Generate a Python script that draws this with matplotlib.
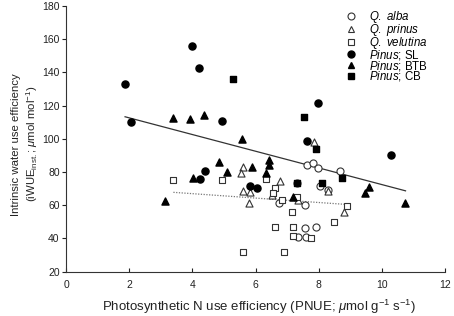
import matplotlib
matplotlib.use("Agg")
import matplotlib.pyplot as plt
from matplotlib.lines import Line2D

plt.rcParams['font.family'] = ['Liberation Sans', 'DejaVu Sans']
plt.rcParams['mathtext.fontset'] = 'custom'
plt.rcParams['mathtext.rm'] = 'Liberation Sans'
plt.rcParams['mathtext.it'] = 'Liberation Sans:italic'
plt.rcParams['mathtext.bf'] = 'Liberation Sans:bold'

# Q. alba (open circles)
qa_x = [7.64, 7.83, 7.99, 8.69, 8.04, 7.32, 6.75, 7.56, 7.57, 7.91, 7.33, 7.59, 8.30]
qa_y = [84.2, 85.6, 82.5, 80.6, 71.6, 73.5, 61.5, 60.0, 46.4, 46.7, 40.7, 41.0, 69.0]
# Q. prinus (open triangles)
qp_x = [7.86, 5.59, 5.53, 5.62, 5.83, 5.78, 6.79, 6.51, 7.33, 8.28, 8.81]
qp_y = [98.3, 83.2, 79.2, 68.6, 67.8, 61.5, 74.6, 66.1, 63.1, 68.6, 55.7]
# Q. velutina (open squares)
qv_x = [3.40, 4.95, 5.61, 6.33, 6.61, 6.56, 6.83, 7.30, 7.16, 8.91, 8.49, 6.61, 7.19, 7.19, 7.77, 6.90]
qv_y = [75.0, 75.0, 31.8, 75.6, 70.6, 67.3, 63.1, 65.1, 56.1, 59.7, 49.7, 47.0, 46.7, 41.4, 40.0, 32.0]
# Pinus; SL (filled circles)
sl_x = [1.87, 2.06, 3.98, 4.20, 4.94, 7.98, 7.62, 10.30, 4.39, 4.25, 5.83, 6.05]
sl_y = [133.0, 110.3, 156.1, 142.8, 110.5, 121.8, 98.7, 90.2, 80.6, 75.8, 71.7, 70.2]
# Pinus; BTB (filled triangles)
btb_x = [3.14, 4.03, 4.85, 5.10, 5.88, 5.57, 6.33, 6.42, 6.42, 3.40, 3.93, 4.38, 9.60, 9.46, 10.74, 7.20]
btb_y = [62.5, 76.6, 86.2, 79.8, 82.8, 99.7, 79.6, 87.0, 84.5, 112.7, 111.9, 114.3, 71.2, 67.2, 61.5, 65.1]
# Pinus; CB (filled squares)
cb_x = [5.30, 7.53, 7.93, 8.74, 7.32, 8.12]
cb_y = [136.0, 113.0, 93.8, 76.6, 73.2, 73.6]

# regression lines (end points)
pine_fit_x = [1.87, 10.75]
pine_fit_y = [113.3, 68.7]
oak_fit_x = [3.40, 8.88]
oak_fit_y = [67.8, 60.5]

fig = plt.figure(figsize=(4.54, 3.16), dpi=100)
ax = fig.add_axes([66/454, 1-271.7/316, (445-66)/454, (271.7-6)/316])

ms = 26
lw = 0.8
ax.plot(pine_fit_x, pine_fit_y, color='#333333', lw=0.9, zorder=1)
ax.plot(oak_fit_x, oak_fit_y, color='#777777', lw=0.9, ls=(0, (1, 1.2)), zorder=1)

ax.scatter(qa_x, qa_y, s=ms, marker='o', facecolors='white', edgecolors='#333333', linewidths=lw, zorder=3)
ax.scatter(qp_x, qp_y, s=ms, marker='^', facecolors='white', edgecolors='#333333', linewidths=lw, zorder=3)
ax.scatter(qv_x, qv_y, s=ms*0.9, marker='s', facecolors='white', edgecolors='#333333', linewidths=lw, zorder=3)
ax.scatter(sl_x, sl_y, s=ms, marker='o', color='black', zorder=4)
ax.scatter(btb_x, btb_y, s=ms, marker='^', color='black', zorder=4)
ax.scatter(cb_x, cb_y, s=ms*0.9, marker='s', color='black', zorder=4)

ax.set_xlim(0, 12)
ax.set_ylim(20, 180)
ax.set_xticks(range(0, 13, 2))
ax.set_yticks(range(20, 181, 20))
ax.spines['top'].set_visible(False)
ax.spines['right'].set_visible(False)
for s in ('left', 'bottom'):
    ax.spines[s].set_linewidth(0.8)
    ax.spines[s].set_color('#333333')
ax.tick_params(axis='y', direction='out', length=3, width=0.8, pad=1.5, labelsize=7.5, colors='#222222')
ax.tick_params(axis='x', direction='in', length=3, width=0.8, pad=6, labelsize=7.5, colors='#222222')

ax.set_xlabel(r'Photosynthetic N use efficiency (PNUE; $\mu$mol g$^{-1}$ s$^{-1}$)', fontsize=9.5, color='#222222')
ax.xaxis.set_label_coords(0.51, -0.10)
ax.set_ylabel('Intrinsic water use efficiency\n' + r'(iWUE$_{\mathrm{inst.}}$; $\mu$mol mol$^{-1}$)', fontsize=8.2, color='#222222', linespacing=1.25)
ax.yaxis.set_label_coords(-0.068, 0.48)

handles = [
    Line2D([], [], ls='', marker='o', mfc='white', mec='#333333', ms=5, mew=lw),
    Line2D([], [], ls='', marker='^', mfc='white', mec='#333333', ms=5, mew=lw),
    Line2D([], [], ls='', marker='s', mfc='white', mec='#333333', ms=4.5, mew=lw),
    Line2D([], [], ls='', marker='o', color='black', ms=5),
    Line2D([], [], ls='', marker='^', color='black', ms=5),
    Line2D([], [], ls='', marker='s', color='black', ms=4.5),
]
labels = [r'$\it{Q.\ alba}$', r'$\it{Q.\ prinus}$', r'$\it{Q.\ velutina}$',
          r'$\it{Pinus}$; SL', r'$\it{Pinus}$; BTB', r'$\it{Pinus}$; CB']
leg = ax.legend(handles, labels, loc='upper left', bbox_to_anchor=(346/454, 1-9/316),
                bbox_transform=fig.transFigure, frameon=False, fontsize=8.3,
                handlelength=0.8, handletextpad=1.2, labelspacing=-0.27, borderpad=0, borderaxespad=0)

fig.savefig('out.png', dpi=100)
